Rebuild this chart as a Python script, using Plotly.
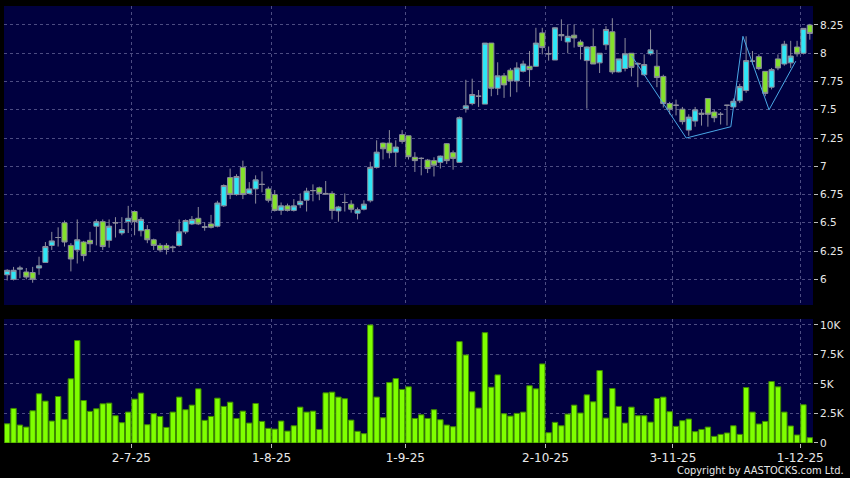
import plotly.graph_objects as go
from plotly.subplots import make_subplots
import pandas as pd

# HK trading days 3 Jun - 2 Dec 2025
hk_holidays = ['2025-07-01', '2025-10-01', '2025-10-07', '2025-10-29']
dates = [d for d in pd.bdate_range('2025-06-03', '2025-12-02')
         if d.strftime('%Y-%m-%d') not in hk_holidays]

opens = [6.04, 6.00, 6.09, 6.065, 6.06, 6.10, 6.15, 6.30, 6.37, 6.50,
         6.30, 6.26, 6.33, 6.345, 6.47, 6.51, 6.345, 6.50, 6.41, 6.51,
         6.60, 6.43, 6.44, 6.35, 6.30, 6.30, 6.28, 6.30, 6.42, 6.49,
         6.54, 6.46, 6.49, 6.47, 6.65, 6.90, 6.75, 6.99, 6.76, 6.80,
         6.84, 6.80, 6.75, 6.61, 6.65, 6.61, 6.66, 6.70, 6.785, 6.81,
         6.76, 6.76, 6.605, 6.68, 6.665, 6.585, 6.62, 6.695, 6.99, 7.205,
         7.205, 7.125, 7.28, 7.27, 7.08, 7.07, 7.055, 7.05, 7.035, 7.20,
         7.12, 7.035, 7.51, 7.555, 7.62, 7.55, 8.09, 7.69, 7.80, 7.85,
         7.755, 7.84, 7.885, 7.885, 8.18, 7.995, 7.94, 8.165, 8.10, 8.16,
         8.10, 7.935, 8.06, 7.915, 8.075, 8.19, 7.835, 7.865, 8.00, 7.91,
         7.81, 7.995, 7.885, 7.795, 7.555, 7.54, 7.505, 7.32, 7.40, 7.47,
         7.60, 7.48, 7.46, 7.54, 7.525, 7.58, 7.67, 7.93, 7.97, 7.84,
         7.70, 7.95, 7.905, 7.915, 8.055, 8.00, 8.25]
highs = [6.09, 6.11, 6.12, 6.10, 6.11, 6.20, 6.33, 6.42, 6.46, 6.52,
         6.32, 6.53, 6.34, 6.42, 6.53, 6.53, 6.53, 6.55, 6.55, 6.65,
         6.61, 6.55, 6.48, 6.36, 6.32, 6.32, 6.30, 6.53, 6.53, 6.56,
         6.64, 6.505, 6.57, 6.695, 6.84, 6.98, 6.93, 7.05, 6.86, 6.92,
         6.955, 6.82, 6.79, 6.68, 6.67, 6.71, 6.76, 6.81, 6.84, 6.82,
         6.87, 6.78, 6.65, 6.76, 6.70, 6.635, 6.70, 7.04, 7.23, 7.21,
         7.32, 7.23, 7.32, 7.27, 7.125, 7.08, 7.065, 7.08, 7.095, 7.205,
         7.14, 7.44, 7.765, 7.775, 7.675, 8.09, 8.09, 7.92, 7.825, 7.87,
         7.92, 7.935, 8.02, 8.225, 8.225, 8.06, 8.23, 8.30, 8.255, 8.255,
         8.12, 8.06, 8.22, 8.00, 8.24, 8.31, 7.95, 8.135, 8.00, 7.92,
         7.99, 8.21, 8.03, 7.81, 7.57, 7.59, 7.525, 7.46, 7.525, 7.50,
         7.60, 7.50, 7.48, 7.54, 7.60, 7.73, 8.15, 8.02, 7.99, 7.84,
         7.87, 7.99, 8.11, 8.11, 8.11, 8.22, 8.26]
lows = [5.99, 5.99, 6.01, 6.00, 5.97, 6.04, 6.15, 6.26, 6.29, 6.29,
        6.07, 6.14, 6.16, 6.24, 6.30, 6.26, 6.28, 6.37, 6.39, 6.41,
        6.39, 6.38, 6.32, 6.26, 6.24, 6.22, 6.24, 6.29, 6.40, 6.48,
        6.48, 6.43, 6.45, 6.46, 6.64, 6.71, 6.74, 6.71, 6.75, 6.67,
        6.77, 6.68, 6.60, 6.57, 6.60, 6.60, 6.63, 6.60, 6.69, 6.70,
        6.75, 6.53, 6.51, 6.60, 6.59, 6.53, 6.61, 6.68, 6.98, 7.06,
        7.07, 7.00, 7.20, 7.06, 6.95, 6.92, 6.94, 6.91, 6.98, 7.02,
        6.97, 7.03, 7.475, 7.54, 7.525, 7.55, 7.62, 7.63, 7.605, 7.615,
        7.655, 7.83, 7.705, 7.88, 7.99, 7.935, 7.94, 8.11, 8.00, 8.05,
        7.945, 7.51, 7.905, 7.825, 8.03, 7.815, 7.83, 7.84, 7.795, 7.70,
        7.80, 7.98, 7.70, 7.52, 7.46, 7.45, 7.37, 7.27, 7.35, 7.36,
        7.35, 7.39, 7.37, 7.36, 7.52, 7.56, 7.65, 7.90, 7.85, 7.62,
        7.68, 7.85, 7.89, 7.87, 7.97, 7.99, 8.12]
closes = [6.08, 6.08, 6.10, 6.02, 6.00, 6.12, 6.29, 6.34, 6.37, 6.33,
          6.18, 6.35, 6.21, 6.315, 6.51, 6.29, 6.47, 6.50, 6.44, 6.54,
          6.51, 6.53, 6.35, 6.30, 6.26, 6.265, 6.285, 6.42, 6.52, 6.53,
          6.49, 6.465, 6.46, 6.675, 6.83, 6.75, 6.91, 6.75, 6.80, 6.88,
          6.84, 6.70, 6.61, 6.65, 6.61, 6.65, 6.69, 6.78, 6.785, 6.76,
          6.755, 6.61, 6.64, 6.68, 6.62, 6.615, 6.665, 6.99, 7.125, 7.155,
          7.12, 7.17, 7.22, 7.085, 7.05, 7.07, 6.98, 7.01, 7.09, 7.05,
          7.07, 7.43, 7.535, 7.635, 7.62, 8.09, 7.69, 7.80, 7.72, 7.755,
          7.87, 7.905, 7.855, 8.09, 8.05, 7.995, 8.225, 8.155, 8.15, 8.135,
          8.06, 8.055, 7.905, 8.00, 8.21, 7.835, 7.95, 7.995, 7.875, 7.905,
          7.90, 8.03, 7.785, 7.555, 7.505, 7.54, 7.395, 7.435, 7.50, 7.46,
          7.46, 7.43, 7.46, 7.54, 7.575, 7.705, 7.935, 7.93, 7.865, 7.645,
          7.855, 7.87, 8.08, 7.975, 7.995, 8.22, 8.175]
volumes = [1630, 2930, 1520, 1350, 2730, 4170, 3550, 1860, 3940, 2000,
           5440, 8680, 3600, 2680, 2900, 3320, 3380, 2310, 1720, 2620,
           3720, 4230, 1550, 2480, 2250, 1320, 2620, 3890, 2820, 3210,
           4590, 1920, 2250, 3800, 3100, 3460, 2080, 2700, 1690, 3350,
           1830, 1240, 1180, 1860, 1010, 1460, 3040, 2620, 2700, 1150,
           4250, 4310, 3890, 3750, 1940, 990, 790, 10000, 3890, 2140,
           5130, 5460, 4540, 4760, 2080, 2390, 2080, 2820, 1970, 1520,
           1380, 8590, 7460, 4340, 2960, 9350, 4730, 5770, 2480, 2280,
           2510, 2620, 4850, 4590, 6700, 870, 1750, 1460, 2450, 3210,
           2540, 4080, 3490, 6140, 2110, 4620, 3100, 1690, 3040, 2310,
           2310, 1770, 3770, 3890, 2650, 1410, 1890, 2030, 960, 1150,
           1350, 560, 730, 850, 1460, 730, 4700, 2620, 1610, 1830,
           5210, 4760, 2620, 1440, 680, 3240, 450]

# drawn pattern line (x in trading-day index units)
pattern_x = [98, 106.6, 113.6, 115.5, 119.6, 123.8]
pattern_y = [7.98, 7.25, 7.35, 8.15, 7.50, 7.93]

price_ticks = [6, 6.25, 6.5, 6.75, 7, 7.25, 7.5, 7.75, 8, 8.25]
vol_ticks = [0, 2500, 5000, 7500, 10000]
vol_tick_text = ['0', '2.5K', '5K', '7.5K', '10K']

idx = list(range(len(dates)))

# month boundaries for date ticks
month_pos, month_text = [], []
for i in range(1, len(dates)):
    if dates[i].month != dates[i - 1].month:
        month_pos.append(i - 0.5)
        month_text.append(f"{dates[i].day}-{dates[i].month}-{dates[i].strftime('%y')}")

fig = make_subplots(rows=2, cols=1, shared_xaxes=True, vertical_spacing=0.03)

fig.add_trace(go.Candlestick(
    x=idx, open=opens, high=highs, low=lows, close=closes,
    increasing=dict(fillcolor='#2ee6f6', line=dict(color='#8c8c9c', width=1)),
    decreasing=dict(fillcolor='#84e12c', line=dict(color='#8c8c9c', width=1)),
    whiskerwidth=0, showlegend=False, hoverinfo='skip',
), row=1, col=1)

fig.add_trace(go.Scatter(
    x=pattern_x, y=pattern_y, mode='lines',
    line=dict(color='#4aa8e6', width=1), showlegend=False, hoverinfo='skip',
), row=1, col=1)

fig.add_trace(go.Bar(
    x=idx, y=volumes, marker=dict(color='#7fff00', line=dict(color='#3f8a00', width=1)),
    showlegend=False, hoverinfo='skip',
), row=2, col=1)

grid = dict(showgrid=True, gridcolor='#4c4c82', griddash='3px,3px', gridwidth=1, zeroline=False)
font = dict(family='DejaVu Sans', size=10.5, color='#e8e8e8')
xfont = dict(family='DejaVu Sans', size=12, color='#e8e8e8')

fig.update_xaxes(range=[-0.5, len(dates) - 0.5], tickvals=month_pos, ticktext=month_text,
                 showline=False, rangeslider_visible=False, **grid)
fig.update_xaxes(showticklabels=False, ticks='', row=1, col=1)
fig.update_xaxes(ticks='outside', ticklen=4, tickcolor='#bbbbbb', tickfont=xfont, row=2, col=1)

fig.update_yaxes(side='right', range=[5.773, 8.418], tickvals=price_ticks,
                 ticktext=[f"{v:g}" for v in price_ticks], domain=[0.3158, 1.0],
                 ticks='outside', ticklen=4, tickcolor='#bbbbbb', tickfont=font,
                 row=1, col=1, **grid)
fig.update_yaxes(side='right', range=[0, 10510], tickvals=vol_ticks, ticktext=vol_tick_text,
                 domain=[0.0, 0.2838], ticks='outside', ticklen=4, tickcolor='#bbbbbb',
                 tickfont=font, row=2, col=1, **grid)

fig.add_annotation(text='Copyright by AASTOCKS.com Ltd.', xref='paper', yref='paper',
                   x=1.041, y=-0.064, xanchor='right', yanchor='middle', showarrow=False,
                   font=dict(family='DejaVu Sans Condensed', size=11, color='#e8e8e8'))

fig.update_layout(
    width=850, height=478,
    paper_bgcolor='#000000', plot_bgcolor='#00003f',
    margin=dict(l=4, r=37, t=6, b=35),
    bargap=0.15, boxgap=0.2, boxgroupgap=0,
    showlegend=False,
)

fig.write_html("out.html", config={'displayModeBar': False},
               post_script="document.body.style.margin='0';")
